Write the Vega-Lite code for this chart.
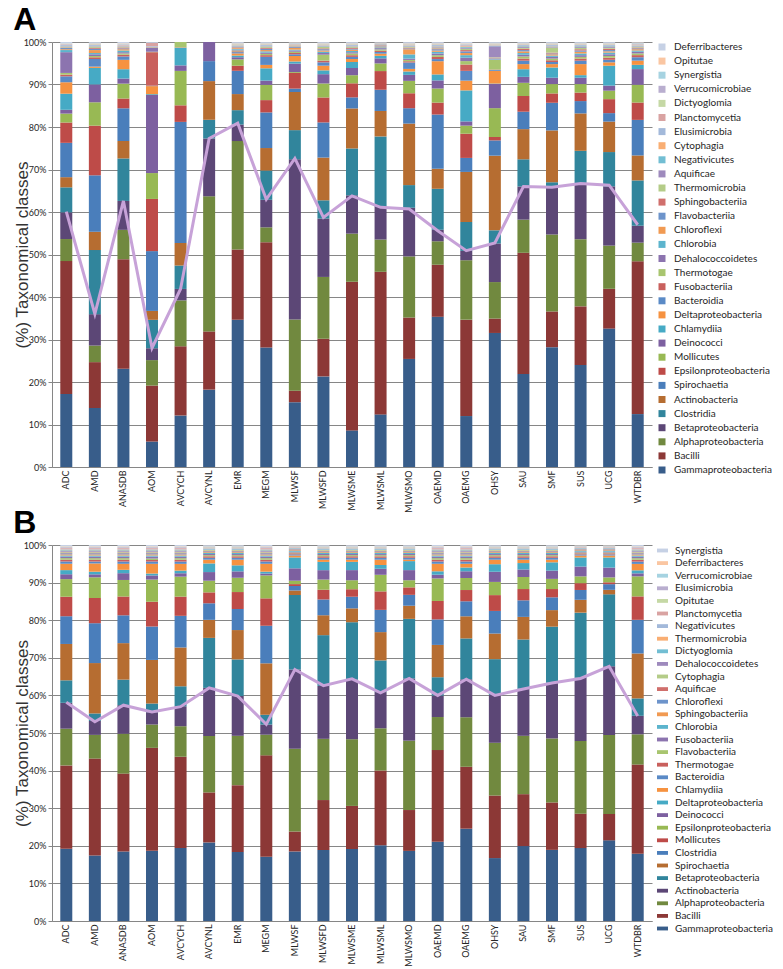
{
"$schema": "https://vega.github.io/schema/vega-lite/v6.json",
"padding": {"left": 13, "top": 4, "right": 0, "bottom": 0},
"background": "white",
"spacing": -6,
"config": {
  "view": {"stroke": null},
  "font": "Lato",
  "axis": {"domainColor": "#868686", "tickColor": "#868686", "gridColor": "#868686", "labelColor": "#262626", "labelFont": "Lato"},
  "axisX": {"labelAngle": -90, "labelFontSize": 9, "ticks": false, "labelPadding": 3, "title": null},
  "axisY": {"values": [0,0.1,0.2,0.3,0.4,0.5,0.6,0.7,0.8,0.9,1], "labelOverlap": false, "format": ".0%", "labelFontSize": 9, "tickSize": 4, "labelPadding": 2, "titleFont": "Liberation Sans", "titleFontSize": 17, "titleFontWeight": "normal", "titleColor": "#333333", "titlePadding": -8, "grid": true},
  "legend": {"title": null, "padding": 0, "symbolStrokeWidth": 0, "labelFont": "Lato", "labelFontSize": 10, "labelColor": "#262626", "labelOffset": 7, "symbolLimit": 40, "labelLimit": 200}
},
"datasets": {
"ca": [{"k":0,"c":"Gammaproteobacteria"},{"k":1,"c":"Bacilli"},{"k":2,"c":"Alphaproteobacteria"},{"k":3,"c":"Betaproteobacteria"},{"k":4,"c":"Clostridia"},{"k":5,"c":"Actinobacteria"},{"k":6,"c":"Spirochaetia"},{"k":7,"c":"Epsilonproteobacteria"},{"k":8,"c":"Mollicutes"},{"k":9,"c":"Deinococci"},{"k":10,"c":"Chlamydiia"},{"k":11,"c":"Deltaproteobacteria"},{"k":12,"c":"Bacteroidia"},{"k":13,"c":"Fusobacteriia"},{"k":14,"c":"Thermotogae"},{"k":15,"c":"Dehalococcoidetes"},{"k":16,"c":"Chlorobia"},{"k":17,"c":"Chloroflexi"},{"k":18,"c":"Flavobacteriia"},{"k":19,"c":"Sphingobacteriia"},{"k":20,"c":"Thermomicrobia"},{"k":21,"c":"Aquificae"},{"k":22,"c":"Negativicutes"},{"k":23,"c":"Cytophagia"},{"k":24,"c":"Elusimicrobia"},{"k":25,"c":"Planctomycetia"},{"k":26,"c":"Dictyoglomia"},{"k":27,"c":"Verrucomicrobiae"},{"k":28,"c":"Synergistia"},{"k":29,"c":"Opitutae"},{"k":30,"c":"Deferribacteres"}],
"cb": [{"k":0,"c":"Gammaproteobacteria"},{"k":1,"c":"Bacilli"},{"k":2,"c":"Alphaproteobacteria"},{"k":3,"c":"Actinobacteria"},{"k":4,"c":"Betaproteobacteria"},{"k":5,"c":"Spirochaetia"},{"k":6,"c":"Clostridia"},{"k":7,"c":"Mollicutes"},{"k":8,"c":"Epsilonproteobacteria"},{"k":9,"c":"Deinococci"},{"k":10,"c":"Deltaproteobacteria"},{"k":11,"c":"Chlamydiia"},{"k":12,"c":"Bacteroidia"},{"k":13,"c":"Thermotogae"},{"k":14,"c":"Flavobacteriia"},{"k":15,"c":"Fusobacteriia"},{"k":16,"c":"Chlorobia"},{"k":17,"c":"Sphingobacteriia"},{"k":18,"c":"Chloroflexi"},{"k":19,"c":"Aquificae"},{"k":20,"c":"Cytophagia"},{"k":21,"c":"Dehalococcoidetes"},{"k":22,"c":"Dictyoglomia"},{"k":23,"c":"Thermomicrobia"},{"k":24,"c":"Negativicutes"},{"k":25,"c":"Planctomycetia"},{"k":26,"c":"Opitutae"},{"k":27,"c":"Elusimicrobia"},{"k":28,"c":"Verrucomicrobiae"},{"k":29,"c":"Deferribacteres"},{"k":30,"c":"Synergistia"}],
"la": [{"s":"ADC","f":0.601},{"s":"AMD","f":0.36},{"s":"ANASDB","f":0.626},{"s":"AOM","f":0.28},{"s":"AVCYCH","f":0.419},{"s":"AVCYNL","f":0.773},{"s":"EMR","f":0.809},{"s":"MEGM","f":0.63},{"s":"MLWSF","f":0.726},{"s":"MLWSFD","f":0.587},{"s":"MLWSME","f":0.638},{"s":"MLWSML","f":0.611},{"s":"MLWSMO","f":0.607},{"s":"OAEMD","f":0.556},{"s":"OAEMG","f":0.509},{"s":"OHSY","f":0.527},{"s":"SAU","f":0.66},{"s":"SMF","f":0.658},{"s":"SUS","f":0.667},{"s":"UCG","f":0.663},{"s":"WTDBR","f":0.57}],
"lb": [{"s":"ADC","f":0.582},{"s":"AMD","f":0.53},{"s":"ANASDB","f":0.574},{"s":"AOM","f":0.556},{"s":"AVCYCH","f":0.57},{"s":"AVCYNL","f":0.62},{"s":"EMR","f":0.598},{"s":"MEGM","f":0.523},{"s":"MLWSF","f":0.669},{"s":"MLWSFD","f":0.626},{"s":"MLWSME","f":0.644},{"s":"MLWSML","f":0.607},{"s":"MLWSMO","f":0.645},{"s":"OAEMD","f":0.6},{"s":"OAEMG","f":0.643},{"s":"OHSY","f":0.6},{"s":"SAU","f":0.617},{"s":"SMF","f":0.633},{"s":"SUS","f":0.645},{"s":"UCG","f":0.677},{"s":"WTDBR","f":0.545}],
"a": [
{"s":"ADC","k":0,"v":17.2},{"s":"ADC","k":1,"v":31.4},{"s":"ADC","k":2,"v":5.2},{"s":"ADC","k":3,"v":6.3},{"s":"ADC","k":4,"v":5.9},{"s":"ADC","k":5,"v":2.4},{"s":"ADC","k":6,"v":8.1},{"s":"ADC","k":7,"v":4.8},{"s":"ADC","k":8,"v":2.1},{"s":"ADC","k":9,"v":0.9},{"s":"ADC","k":10,"v":3.8},{"s":"ADC","k":11,"v":2.7},{"s":"ADC","k":12,"v":1.4},{"s":"ADC","k":13,"v":0.4},{"s":"ADC","k":14,"v":0.4},{"s":"ADC","k":15,"v":4.9},{"s":"ADC","k":16,"v":0.5},{"s":"ADC","k":17,"v":0.2},{"s":"ADC","k":18,"v":0.3},{"s":"ADC","k":19,"v":0.1},{"s":"ADC","k":20,"v":0.1},{"s":"ADC","k":21,"v":0.1},{"s":"ADC","k":22,"v":0.1},{"s":"ADC","k":23,"v":0.1},{"s":"ADC","k":24,"v":0.2},{"s":"ADC","k":25,"v":0.1},{"s":"ADC","k":26,"v":0.05},{"s":"ADC","k":27,"v":0.1},{"s":"ADC","k":28,"v":0.1},{"s":"ADC","k":29,"v":0.05},{"s":"ADC","k":30,"v":0.3},
{"s":"AMD","k":0,"v":13.9},{"s":"AMD","k":1,"v":10.8},{"s":"AMD","k":2,"v":3.9},{"s":"AMD","k":3,"v":7.4},{"s":"AMD","k":4,"v":15.1},{"s":"AMD","k":5,"v":4.3},{"s":"AMD","k":6,"v":13.3},{"s":"AMD","k":7,"v":11.7},{"s":"AMD","k":8,"v":5.5},{"s":"AMD","k":9,"v":4.2},{"s":"AMD","k":10,"v":3.9},{"s":"AMD","k":11,"v":0.3},{"s":"AMD","k":12,"v":1.8},{"s":"AMD","k":13,"v":0.4},{"s":"AMD","k":14,"v":0.3},{"s":"AMD","k":15,"v":0.4},{"s":"AMD","k":16,"v":0.3},{"s":"AMD","k":17,"v":0.7},{"s":"AMD","k":18,"v":0.3},{"s":"AMD","k":19,"v":0.2},{"s":"AMD","k":20,"v":0.2},{"s":"AMD","k":21,"v":0.1},{"s":"AMD","k":22,"v":0.1},{"s":"AMD","k":23,"v":0.1},{"s":"AMD","k":24,"v":0.2},{"s":"AMD","k":25,"v":0.1},{"s":"AMD","k":26,"v":0.1},{"s":"AMD","k":27,"v":0.1},{"s":"AMD","k":28,"v":0.1},{"s":"AMD","k":29,"v":0.1},{"s":"AMD","k":30,"v":0.2},
{"s":"ANASDB","k":0,"v":23.1},{"s":"ANASDB","k":1,"v":25.8},{"s":"ANASDB","k":2,"v":6.9},{"s":"ANASDB","k":3,"v":6.8},{"s":"ANASDB","k":4,"v":10.0},{"s":"ANASDB","k":5,"v":4.1},{"s":"ANASDB","k":6,"v":7.7},{"s":"ANASDB","k":7,"v":2.3},{"s":"ANASDB","k":8,"v":3.5},{"s":"ANASDB","k":9,"v":1.2},{"s":"ANASDB","k":10,"v":2.2},{"s":"ANASDB","k":11,"v":2.2},{"s":"ANASDB","k":12,"v":0.8},{"s":"ANASDB","k":13,"v":0.4},{"s":"ANASDB","k":14,"v":0.3},{"s":"ANASDB","k":15,"v":0.3},{"s":"ANASDB","k":16,"v":0.4},{"s":"ANASDB","k":17,"v":0.3},{"s":"ANASDB","k":18,"v":0.2},{"s":"ANASDB","k":19,"v":0.2},{"s":"ANASDB","k":20,"v":0.1},{"s":"ANASDB","k":21,"v":0.1},{"s":"ANASDB","k":22,"v":0.1},{"s":"ANASDB","k":23,"v":0.1},{"s":"ANASDB","k":24,"v":0.1},{"s":"ANASDB","k":25,"v":0.1},{"s":"ANASDB","k":26,"v":0.1},{"s":"ANASDB","k":27,"v":0.1},{"s":"ANASDB","k":28,"v":0.1},{"s":"ANASDB","k":29,"v":0.1},{"s":"ANASDB","k":30,"v":0.3},
{"s":"AOM","k":0,"v":6.0},{"s":"AOM","k":1,"v":13.2},{"s":"AOM","k":2,"v":6.0},{"s":"AOM","k":3,"v":2.8},{"s":"AOM","k":4,"v":6.7},{"s":"AOM","k":5,"v":2.1},{"s":"AOM","k":6,"v":14.1},{"s":"AOM","k":7,"v":12.3},{"s":"AOM","k":8,"v":6.1},{"s":"AOM","k":9,"v":18.4},{"s":"AOM","k":10,"v":0.2},{"s":"AOM","k":11,"v":1.9},{"s":"AOM","k":12,"v":0.1},{"s":"AOM","k":13,"v":7.9},{"s":"AOM","k":14,"v":0.1},{"s":"AOM","k":15,"v":0.9},{"s":"AOM","k":16,"v":0.1},{"s":"AOM","k":17,"v":0.1},{"s":"AOM","k":18,"v":0.1},{"s":"AOM","k":24,"v":0.1},{"s":"AOM","k":25,"v":0.8},{"s":"AOM","k":30,"v":0.2},
{"s":"AVCYCH","k":0,"v":12.1},{"s":"AVCYCH","k":1,"v":16.3},{"s":"AVCYCH","k":2,"v":10.8},{"s":"AVCYCH","k":3,"v":2.7},{"s":"AVCYCH","k":4,"v":5.5},{"s":"AVCYCH","k":5,"v":5.3},{"s":"AVCYCH","k":6,"v":28.5},{"s":"AVCYCH","k":7,"v":3.9},{"s":"AVCYCH","k":8,"v":8.1},{"s":"AVCYCH","k":9,"v":1.3},{"s":"AVCYCH","k":10,"v":4.2},{"s":"AVCYCH","k":11,"v":0.1},{"s":"AVCYCH","k":14,"v":1.2},
{"s":"AVCYNL","k":0,"v":18.2},{"s":"AVCYNL","k":1,"v":13.7},{"s":"AVCYNL","k":2,"v":31.8},{"s":"AVCYNL","k":3,"v":13.6},{"s":"AVCYNL","k":4,"v":4.4},{"s":"AVCYNL","k":5,"v":9.1},{"s":"AVCYNL","k":6,"v":4.7},{"s":"AVCYNL","k":9,"v":4.5},
{"s":"EMR","k":0,"v":34.8},{"s":"EMR","k":1,"v":16.6},{"s":"EMR","k":2,"v":25.6},{"s":"EMR","k":3,"v":3.9},{"s":"EMR","k":4,"v":3.4},{"s":"EMR","k":5,"v":3.8},{"s":"EMR","k":6,"v":5.5},{"s":"EMR","k":7,"v":1.2},{"s":"EMR","k":8,"v":1.5},{"s":"EMR","k":9,"v":0.5},{"s":"EMR","k":10,"v":0.4},{"s":"EMR","k":11,"v":0.5},{"s":"EMR","k":12,"v":0.3},{"s":"EMR","k":13,"v":0.2},{"s":"EMR","k":14,"v":0.2},{"s":"EMR","k":15,"v":0.2},{"s":"EMR","k":16,"v":0.2},{"s":"EMR","k":17,"v":0.2},{"s":"EMR","k":18,"v":0.1},{"s":"EMR","k":19,"v":0.1},{"s":"EMR","k":20,"v":0.1},{"s":"EMR","k":21,"v":0.1},{"s":"EMR","k":22,"v":0.1},{"s":"EMR","k":23,"v":0.1},{"s":"EMR","k":24,"v":0.1},{"s":"EMR","k":25,"v":0.1},{"s":"EMR","k":26,"v":0.1},{"s":"EMR","k":27,"v":0.1},{"s":"EMR","k":28,"v":0.1},{"s":"EMR","k":29,"v":0.1},{"s":"EMR","k":30,"v":0.2},
{"s":"MEGM","k":0,"v":28.2},{"s":"MEGM","k":1,"v":24.8},{"s":"MEGM","k":2,"v":3.5},{"s":"MEGM","k":3,"v":6.5},{"s":"MEGM","k":4,"v":6.9},{"s":"MEGM","k":5,"v":5.3},{"s":"MEGM","k":6,"v":8.4},{"s":"MEGM","k":7,"v":2.9},{"s":"MEGM","k":8,"v":3.6},{"s":"MEGM","k":9,"v":1.0},{"s":"MEGM","k":10,"v":2.9},{"s":"MEGM","k":11,"v":0.8},{"s":"MEGM","k":12,"v":1.9},{"s":"MEGM","k":13,"v":0.4},{"s":"MEGM","k":14,"v":0.3},{"s":"MEGM","k":15,"v":0.3},{"s":"MEGM","k":16,"v":0.3},{"s":"MEGM","k":17,"v":0.3},{"s":"MEGM","k":18,"v":0.3},{"s":"MEGM","k":19,"v":0.2},{"s":"MEGM","k":20,"v":0.2},{"s":"MEGM","k":21,"v":0.1},{"s":"MEGM","k":22,"v":0.1},{"s":"MEGM","k":23,"v":0.1},{"s":"MEGM","k":24,"v":0.2},{"s":"MEGM","k":25,"v":0.1},{"s":"MEGM","k":26,"v":0.1},{"s":"MEGM","k":27,"v":0.1},{"s":"MEGM","k":28,"v":0.1},{"s":"MEGM","k":29,"v":0.1},{"s":"MEGM","k":30,"v":0.2},
{"s":"MLWSF","k":0,"v":15.3},{"s":"MLWSF","k":1,"v":2.7},{"s":"MLWSF","k":2,"v":16.8},{"s":"MLWSF","k":3,"v":37.8},{"s":"MLWSF","k":4,"v":6.9},{"s":"MLWSF","k":5,"v":9.0},{"s":"MLWSF","k":6,"v":0.8},{"s":"MLWSF","k":7,"v":3.7},{"s":"MLWSF","k":8,"v":0.2},{"s":"MLWSF","k":9,"v":2.0},{"s":"MLWSF","k":10,"v":0.5},{"s":"MLWSF","k":11,"v":1.3},{"s":"MLWSF","k":12,"v":0.4},{"s":"MLWSF","k":13,"v":0.3},{"s":"MLWSF","k":14,"v":0.3},{"s":"MLWSF","k":15,"v":0.3},{"s":"MLWSF","k":16,"v":0.2},{"s":"MLWSF","k":17,"v":0.4},{"s":"MLWSF","k":18,"v":0.2},{"s":"MLWSF","k":19,"v":0.1},{"s":"MLWSF","k":20,"v":0.1},{"s":"MLWSF","k":21,"v":0.1},{"s":"MLWSF","k":22,"v":0.1},{"s":"MLWSF","k":23,"v":0.1},{"s":"MLWSF","k":24,"v":0.1},{"s":"MLWSF","k":25,"v":0.1},{"s":"MLWSF","k":26,"v":0.1},{"s":"MLWSF","k":27,"v":0.1},{"s":"MLWSF","k":28,"v":0.1},{"s":"MLWSF","k":29,"v":0.1},{"s":"MLWSF","k":30,"v":0.1},
{"s":"MLWSFD","k":0,"v":21.4},{"s":"MLWSFD","k":1,"v":8.9},{"s":"MLWSFD","k":2,"v":14.6},{"s":"MLWSFD","k":3,"v":13.8},{"s":"MLWSFD","k":4,"v":4.3},{"s":"MLWSFD","k":5,"v":10.1},{"s":"MLWSFD","k":6,"v":8.3},{"s":"MLWSFD","k":7,"v":5.9},{"s":"MLWSFD","k":8,"v":3.3},{"s":"MLWSFD","k":9,"v":2.2},{"s":"MLWSFD","k":10,"v":0.9},{"s":"MLWSFD","k":11,"v":1.1},{"s":"MLWSFD","k":12,"v":0.8},{"s":"MLWSFD","k":13,"v":0.4},{"s":"MLWSFD","k":14,"v":1.4},{"s":"MLWSFD","k":15,"v":0.4},{"s":"MLWSFD","k":16,"v":0.3},{"s":"MLWSFD","k":17,"v":0.3},{"s":"MLWSFD","k":18,"v":0.3},{"s":"MLWSFD","k":19,"v":0.2},{"s":"MLWSFD","k":20,"v":0.4},{"s":"MLWSFD","k":21,"v":0.1},{"s":"MLWSFD","k":22,"v":0.1},{"s":"MLWSFD","k":23,"v":0.1},{"s":"MLWSFD","k":24,"v":0.1},{"s":"MLWSFD","k":25,"v":0.1},{"s":"MLWSFD","k":26,"v":0.1},{"s":"MLWSFD","k":27,"v":0.1},{"s":"MLWSFD","k":28,"v":0.1},{"s":"MLWSFD","k":29,"v":0.1},{"s":"MLWSFD","k":30,"v":0.2},
{"s":"MLWSME","k":0,"v":8.6},{"s":"MLWSME","k":1,"v":34.9},{"s":"MLWSME","k":2,"v":11.3},{"s":"MLWSME","k":3,"v":9.0},{"s":"MLWSME","k":4,"v":11.0},{"s":"MLWSME","k":5,"v":9.4},{"s":"MLWSME","k":6,"v":2.6},{"s":"MLWSME","k":7,"v":3.3},{"s":"MLWSME","k":8,"v":1.9},{"s":"MLWSME","k":9,"v":1.7},{"s":"MLWSME","k":10,"v":1.4},{"s":"MLWSME","k":11,"v":0.7},{"s":"MLWSME","k":12,"v":0.5},{"s":"MLWSME","k":13,"v":0.4},{"s":"MLWSME","k":14,"v":0.4},{"s":"MLWSME","k":15,"v":0.3},{"s":"MLWSME","k":16,"v":0.3},{"s":"MLWSME","k":17,"v":0.3},{"s":"MLWSME","k":18,"v":0.2},{"s":"MLWSME","k":19,"v":0.2},{"s":"MLWSME","k":20,"v":0.2},{"s":"MLWSME","k":21,"v":0.1},{"s":"MLWSME","k":22,"v":0.1},{"s":"MLWSME","k":23,"v":0.1},{"s":"MLWSME","k":24,"v":0.2},{"s":"MLWSME","k":25,"v":0.1},{"s":"MLWSME","k":26,"v":0.1},{"s":"MLWSME","k":27,"v":0.1},{"s":"MLWSME","k":28,"v":0.1},{"s":"MLWSME","k":29,"v":0.1},{"s":"MLWSME","k":30,"v":0.2},
{"s":"MLWSML","k":0,"v":12.4},{"s":"MLWSML","k":1,"v":33.6},{"s":"MLWSML","k":2,"v":7.6},{"s":"MLWSML","k":3,"v":7.9},{"s":"MLWSML","k":4,"v":16.4},{"s":"MLWSML","k":5,"v":6.0},{"s":"MLWSML","k":6,"v":5.0},{"s":"MLWSML","k":7,"v":4.4},{"s":"MLWSML","k":8,"v":1.8},{"s":"MLWSML","k":9,"v":1.2},{"s":"MLWSML","k":10,"v":0.6},{"s":"MLWSML","k":11,"v":0.5},{"s":"MLWSML","k":12,"v":0.4},{"s":"MLWSML","k":13,"v":0.3},{"s":"MLWSML","k":14,"v":0.3},{"s":"MLWSML","k":15,"v":0.3},{"s":"MLWSML","k":16,"v":0.2},{"s":"MLWSML","k":17,"v":0.2},{"s":"MLWSML","k":18,"v":0.2},{"s":"MLWSML","k":19,"v":0.1},{"s":"MLWSML","k":20,"v":0.1},{"s":"MLWSML","k":21,"v":0.1},{"s":"MLWSML","k":22,"v":0.05},{"s":"MLWSML","k":23,"v":0.05},{"s":"MLWSML","k":24,"v":0.1},{"s":"MLWSML","k":25,"v":0.05},{"s":"MLWSML","k":26,"v":0.05},{"s":"MLWSML","k":27,"v":0.05},{"s":"MLWSML","k":28,"v":0.05},{"s":"MLWSML","k":29,"v":0.05},{"s":"MLWSML","k":30,"v":0.1},
{"s":"MLWSMO","k":0,"v":25.3},{"s":"MLWSMO","k":1,"v":9.7},{"s":"MLWSMO","k":2,"v":14.3},{"s":"MLWSMO","k":3,"v":11.4},{"s":"MLWSMO","k":4,"v":5.3},{"s":"MLWSMO","k":5,"v":14.4},{"s":"MLWSMO","k":6,"v":3.6},{"s":"MLWSMO","k":7,"v":3.5},{"s":"MLWSMO","k":8,"v":2.9},{"s":"MLWSMO","k":9,"v":1.4},{"s":"MLWSMO","k":10,"v":0.8},{"s":"MLWSMO","k":11,"v":0.6},{"s":"MLWSMO","k":12,"v":1.5},{"s":"MLWSMO","k":13,"v":0.3},{"s":"MLWSMO","k":14,"v":0.3},{"s":"MLWSMO","k":15,"v":0.3},{"s":"MLWSMO","k":16,"v":1.0},{"s":"MLWSMO","k":17,"v":1.2},{"s":"MLWSMO","k":18,"v":0.2},{"s":"MLWSMO","k":19,"v":0.2},{"s":"MLWSMO","k":20,"v":0.2},{"s":"MLWSMO","k":21,"v":0.1},{"s":"MLWSMO","k":22,"v":0.1},{"s":"MLWSMO","k":23,"v":0.1},{"s":"MLWSMO","k":24,"v":0.1},{"s":"MLWSMO","k":25,"v":0.1},{"s":"MLWSMO","k":26,"v":0.1},{"s":"MLWSMO","k":27,"v":0.1},{"s":"MLWSMO","k":28,"v":0.1},{"s":"MLWSMO","k":29,"v":0.1},{"s":"MLWSMO","k":30,"v":0.2},
{"s":"OAEMD","k":0,"v":35.2},{"s":"OAEMD","k":1,"v":12.2},{"s":"OAEMD","k":2,"v":5.5},{"s":"OAEMD","k":3,"v":2.7},{"s":"OAEMD","k":4,"v":9.6},{"s":"OAEMD","k":5,"v":4.7},{"s":"OAEMD","k":6,"v":12.7},{"s":"OAEMD","k":7,"v":2.8},{"s":"OAEMD","k":8,"v":3.3},{"s":"OAEMD","k":9,"v":1.9},{"s":"OAEMD","k":10,"v":1.4},{"s":"OAEMD","k":11,"v":3.1},{"s":"OAEMD","k":12,"v":0.5},{"s":"OAEMD","k":13,"v":0.5},{"s":"OAEMD","k":14,"v":0.4},{"s":"OAEMD","k":15,"v":0.4},{"s":"OAEMD","k":16,"v":0.4},{"s":"OAEMD","k":17,"v":0.3},{"s":"OAEMD","k":18,"v":0.3},{"s":"OAEMD","k":19,"v":0.2},{"s":"OAEMD","k":20,"v":0.2},{"s":"OAEMD","k":21,"v":0.2},{"s":"OAEMD","k":22,"v":0.1},{"s":"OAEMD","k":23,"v":0.1},{"s":"OAEMD","k":24,"v":0.2},{"s":"OAEMD","k":25,"v":0.1},{"s":"OAEMD","k":26,"v":0.1},{"s":"OAEMD","k":27,"v":0.1},{"s":"OAEMD","k":28,"v":0.1},{"s":"OAEMD","k":29,"v":0.1},{"s":"OAEMD","k":30,"v":0.2},
{"s":"OAEMG","k":0,"v":12.0},{"s":"OAEMG","k":1,"v":22.7},{"s":"OAEMG","k":2,"v":14.0},{"s":"OAEMG","k":3,"v":2.2},{"s":"OAEMG","k":4,"v":6.8},{"s":"OAEMG","k":5,"v":11.8},{"s":"OAEMG","k":6,"v":3.3},{"s":"OAEMG","k":7,"v":5.7},{"s":"OAEMG","k":8,"v":1.9},{"s":"OAEMG","k":9,"v":1.0},{"s":"OAEMG","k":10,"v":7.3},{"s":"OAEMG","k":11,"v":2.3},{"s":"OAEMG","k":12,"v":2.3},{"s":"OAEMG","k":13,"v":1.5},{"s":"OAEMG","k":14,"v":0.8},{"s":"OAEMG","k":15,"v":0.8},{"s":"OAEMG","k":16,"v":0.6},{"s":"OAEMG","k":17,"v":0.5},{"s":"OAEMG","k":18,"v":0.4},{"s":"OAEMG","k":19,"v":0.3},{"s":"OAEMG","k":20,"v":0.3},{"s":"OAEMG","k":21,"v":0.2},{"s":"OAEMG","k":22,"v":0.2},{"s":"OAEMG","k":23,"v":0.2},{"s":"OAEMG","k":24,"v":0.2},{"s":"OAEMG","k":25,"v":0.1},{"s":"OAEMG","k":26,"v":0.1},{"s":"OAEMG","k":27,"v":0.1},{"s":"OAEMG","k":28,"v":0.1},{"s":"OAEMG","k":29,"v":0.1},{"s":"OAEMG","k":30,"v":0.3},
{"s":"OHSY","k":0,"v":31.6},{"s":"OHSY","k":1,"v":3.4},{"s":"OHSY","k":2,"v":8.6},{"s":"OHSY","k":3,"v":9.1},{"s":"OHSY","k":4,"v":3.1},{"s":"OHSY","k":5,"v":17.6},{"s":"OHSY","k":6,"v":3.6},{"s":"OHSY","k":7,"v":0.8},{"s":"OHSY","k":8,"v":6.8},{"s":"OHSY","k":9,"v":5.7},{"s":"OHSY","k":10,"v":0.1},{"s":"OHSY","k":11,"v":3.0},{"s":"OHSY","k":12,"v":0.2},{"s":"OHSY","k":13,"v":0.1},{"s":"OHSY","k":14,"v":2.3},{"s":"OHSY","k":15,"v":0.1},{"s":"OHSY","k":16,"v":0.1},{"s":"OHSY","k":17,"v":0.1},{"s":"OHSY","k":18,"v":0.1},{"s":"OHSY","k":19,"v":0.1},{"s":"OHSY","k":20,"v":0.1},{"s":"OHSY","k":21,"v":2.6},{"s":"OHSY","k":22,"v":0.1},{"s":"OHSY","k":23,"v":0.1},{"s":"OHSY","k":24,"v":0.1},{"s":"OHSY","k":25,"v":0.1},{"s":"OHSY","k":26,"v":0.1},{"s":"OHSY","k":27,"v":0.1},{"s":"OHSY","k":28,"v":0.1},{"s":"OHSY","k":29,"v":0.1},{"s":"OHSY","k":30,"v":0.2},
{"s":"SAU","k":0,"v":21.9},{"s":"SAU","k":1,"v":28.5},{"s":"SAU","k":2,"v":7.8},{"s":"SAU","k":3,"v":7.8},{"s":"SAU","k":4,"v":6.4},{"s":"SAU","k":5,"v":7.1},{"s":"SAU","k":6,"v":4.1},{"s":"SAU","k":7,"v":3.7},{"s":"SAU","k":8,"v":3.1},{"s":"SAU","k":9,"v":1.4},{"s":"SAU","k":10,"v":1.8},{"s":"SAU","k":11,"v":1.2},{"s":"SAU","k":12,"v":0.8},{"s":"SAU","k":13,"v":0.5},{"s":"SAU","k":14,"v":0.5},{"s":"SAU","k":15,"v":0.4},{"s":"SAU","k":16,"v":0.4},{"s":"SAU","k":17,"v":0.4},{"s":"SAU","k":18,"v":0.3},{"s":"SAU","k":19,"v":0.3},{"s":"SAU","k":20,"v":0.2},{"s":"SAU","k":21,"v":0.2},{"s":"SAU","k":22,"v":0.2},{"s":"SAU","k":23,"v":0.1},{"s":"SAU","k":24,"v":0.2},{"s":"SAU","k":25,"v":0.1},{"s":"SAU","k":26,"v":0.1},{"s":"SAU","k":27,"v":0.1},{"s":"SAU","k":28,"v":0.1},{"s":"SAU","k":29,"v":0.1},{"s":"SAU","k":30,"v":0.2},
{"s":"SMF","k":0,"v":28.2},{"s":"SMF","k":1,"v":8.4},{"s":"SMF","k":2,"v":18.1},{"s":"SMF","k":3,"v":11.1},{"s":"SMF","k":4,"v":1.2},{"s":"SMF","k":5,"v":12.2},{"s":"SMF","k":6,"v":6.5},{"s":"SMF","k":7,"v":2.2},{"s":"SMF","k":8,"v":2.2},{"s":"SMF","k":9,"v":1.5},{"s":"SMF","k":10,"v":2.4},{"s":"SMF","k":11,"v":0.8},{"s":"SMF","k":12,"v":0.5},{"s":"SMF","k":13,"v":0.4},{"s":"SMF","k":14,"v":0.4},{"s":"SMF","k":15,"v":0.4},{"s":"SMF","k":16,"v":0.3},{"s":"SMF","k":17,"v":0.3},{"s":"SMF","k":18,"v":0.2},{"s":"SMF","k":19,"v":0.2},{"s":"SMF","k":20,"v":1.2},{"s":"SMF","k":21,"v":0.2},{"s":"SMF","k":22,"v":0.1},{"s":"SMF","k":23,"v":0.1},{"s":"SMF","k":24,"v":0.2},{"s":"SMF","k":25,"v":0.1},{"s":"SMF","k":26,"v":0.1},{"s":"SMF","k":27,"v":0.1},{"s":"SMF","k":28,"v":0.1},{"s":"SMF","k":29,"v":0.1},{"s":"SMF","k":30,"v":0.2},
{"s":"SUS","k":0,"v":24.0},{"s":"SUS","k":1,"v":13.8},{"s":"SUS","k":2,"v":15.8},{"s":"SUS","k":3,"v":13.1},{"s":"SUS","k":4,"v":7.7},{"s":"SUS","k":5,"v":8.8},{"s":"SUS","k":6,"v":2.9},{"s":"SUS","k":7,"v":2.0},{"s":"SUS","k":8,"v":2.0},{"s":"SUS","k":9,"v":1.5},{"s":"SUS","k":10,"v":0.6},{"s":"SUS","k":11,"v":2.6},{"s":"SUS","k":12,"v":0.8},{"s":"SUS","k":13,"v":0.5},{"s":"SUS","k":14,"v":0.4},{"s":"SUS","k":15,"v":0.4},{"s":"SUS","k":16,"v":0.4},{"s":"SUS","k":17,"v":0.4},{"s":"SUS","k":18,"v":0.3},{"s":"SUS","k":19,"v":0.3},{"s":"SUS","k":20,"v":0.3},{"s":"SUS","k":21,"v":0.2},{"s":"SUS","k":22,"v":0.2},{"s":"SUS","k":23,"v":0.1},{"s":"SUS","k":24,"v":0.2},{"s":"SUS","k":25,"v":0.1},{"s":"SUS","k":26,"v":0.1},{"s":"SUS","k":27,"v":0.1},{"s":"SUS","k":28,"v":0.1},{"s":"SUS","k":29,"v":0.1},{"s":"SUS","k":30,"v":0.2},
{"s":"UCG","k":0,"v":32.7},{"s":"UCG","k":1,"v":9.4},{"s":"UCG","k":2,"v":10.2},{"s":"UCG","k":3,"v":14.0},{"s":"UCG","k":4,"v":8.1},{"s":"UCG","k":5,"v":7.2},{"s":"UCG","k":6,"v":2.0},{"s":"UCG","k":7,"v":3.3},{"s":"UCG","k":8,"v":2.0},{"s":"UCG","k":9,"v":1.2},{"s":"UCG","k":10,"v":4.7},{"s":"UCG","k":11,"v":0.8},{"s":"UCG","k":12,"v":0.6},{"s":"UCG","k":13,"v":0.5},{"s":"UCG","k":14,"v":0.4},{"s":"UCG","k":15,"v":0.4},{"s":"UCG","k":16,"v":0.4},{"s":"UCG","k":17,"v":0.3},{"s":"UCG","k":18,"v":0.3},{"s":"UCG","k":19,"v":0.3},{"s":"UCG","k":20,"v":0.2},{"s":"UCG","k":21,"v":0.2},{"s":"UCG","k":22,"v":0.2},{"s":"UCG","k":23,"v":0.1},{"s":"UCG","k":24,"v":0.2},{"s":"UCG","k":25,"v":0.1},{"s":"UCG","k":26,"v":0.1},{"s":"UCG","k":27,"v":0.1},{"s":"UCG","k":28,"v":0.1},{"s":"UCG","k":29,"v":0.1},{"s":"UCG","k":30,"v":0.2},
{"s":"WTDBR","k":0,"v":12.5},{"s":"WTDBR","k":1,"v":36.1},{"s":"WTDBR","k":2,"v":4.4},{"s":"WTDBR","k":3,"v":4.0},{"s":"WTDBR","k":4,"v":10.7},{"s":"WTDBR","k":5,"v":5.9},{"s":"WTDBR","k":6,"v":8.4},{"s":"WTDBR","k":7,"v":4.1},{"s":"WTDBR","k":8,"v":4.2},{"s":"WTDBR","k":9,"v":3.7},{"s":"WTDBR","k":10,"v":1.0},{"s":"WTDBR","k":11,"v":1.0},{"s":"WTDBR","k":12,"v":0.8},{"s":"WTDBR","k":13,"v":0.5},{"s":"WTDBR","k":14,"v":0.4},{"s":"WTDBR","k":15,"v":0.4},{"s":"WTDBR","k":16,"v":0.3},{"s":"WTDBR","k":17,"v":0.3},{"s":"WTDBR","k":18,"v":0.2},{"s":"WTDBR","k":19,"v":0.2},{"s":"WTDBR","k":20,"v":0.2},{"s":"WTDBR","k":21,"v":0.1},{"s":"WTDBR","k":22,"v":0.1},{"s":"WTDBR","k":23,"v":0.1},{"s":"WTDBR","k":24,"v":0.2},{"s":"WTDBR","k":25,"v":0.1},{"s":"WTDBR","k":26,"v":0.1},{"s":"WTDBR","k":27,"v":0.1},{"s":"WTDBR","k":28,"v":0.1},{"s":"WTDBR","k":29,"v":0.1},{"s":"WTDBR","k":30,"v":0.1}
],
"b": [
{"s":"ADC","k":0,"v":19.3},{"s":"ADC","k":1,"v":22.2},{"s":"ADC","k":2,"v":9.8},{"s":"ADC","k":3,"v":6.9},{"s":"ADC","k":4,"v":6.0},{"s":"ADC","k":5,"v":9.7},{"s":"ADC","k":6,"v":7.4},{"s":"ADC","k":7,"v":5.2},{"s":"ADC","k":8,"v":4.7},{"s":"ADC","k":9,"v":1.3},{"s":"ADC","k":10,"v":1.1},{"s":"ADC","k":11,"v":1.7},{"s":"ADC","k":12,"v":0.6},{"s":"ADC","k":13,"v":0.5},{"s":"ADC","k":14,"v":0.4},{"s":"ADC","k":15,"v":0.4},{"s":"ADC","k":16,"v":0.3},{"s":"ADC","k":17,"v":0.3},{"s":"ADC","k":18,"v":0.3},{"s":"ADC","k":19,"v":0.2},{"s":"ADC","k":20,"v":0.2},{"s":"ADC","k":21,"v":0.2},{"s":"ADC","k":22,"v":0.2},{"s":"ADC","k":23,"v":0.2},{"s":"ADC","k":24,"v":0.2},{"s":"ADC","k":25,"v":0.2},{"s":"ADC","k":26,"v":0.1},{"s":"ADC","k":27,"v":0.2},{"s":"ADC","k":28,"v":0.1},{"s":"ADC","k":29,"v":0.1},{"s":"ADC","k":30,"v":0.3},
{"s":"AMD","k":0,"v":17.4},{"s":"AMD","k":1,"v":25.8},{"s":"AMD","k":2,"v":6.3},{"s":"AMD","k":3,"v":3.7},{"s":"AMD","k":4,"v":2.0},{"s":"AMD","k":5,"v":13.4},{"s":"AMD","k":6,"v":10.6},{"s":"AMD","k":7,"v":6.7},{"s":"AMD","k":8,"v":5.5},{"s":"AMD","k":9,"v":0.8},{"s":"AMD","k":10,"v":0.7},{"s":"AMD","k":11,"v":2.2},{"s":"AMD","k":12,"v":0.5},{"s":"AMD","k":13,"v":0.5},{"s":"AMD","k":14,"v":0.4},{"s":"AMD","k":15,"v":0.4},{"s":"AMD","k":16,"v":0.3},{"s":"AMD","k":17,"v":0.3},{"s":"AMD","k":18,"v":0.3},{"s":"AMD","k":19,"v":0.2},{"s":"AMD","k":20,"v":0.2},{"s":"AMD","k":21,"v":0.2},{"s":"AMD","k":22,"v":0.2},{"s":"AMD","k":23,"v":0.2},{"s":"AMD","k":24,"v":0.2},{"s":"AMD","k":25,"v":0.2},{"s":"AMD","k":26,"v":0.1},{"s":"AMD","k":27,"v":0.2},{"s":"AMD","k":28,"v":0.1},{"s":"AMD","k":29,"v":0.1},{"s":"AMD","k":30,"v":0.3},
{"s":"ANASDB","k":0,"v":18.5},{"s":"ANASDB","k":1,"v":20.7},{"s":"ANASDB","k":2,"v":10.6},{"s":"ANASDB","k":3,"v":7.6},{"s":"ANASDB","k":4,"v":6.8},{"s":"ANASDB","k":5,"v":9.7},{"s":"ANASDB","k":6,"v":7.4},{"s":"ANASDB","k":7,"v":5.0},{"s":"ANASDB","k":8,"v":4.4},{"s":"ANASDB","k":9,"v":1.8},{"s":"ANASDB","k":10,"v":0.9},{"s":"ANASDB","k":11,"v":1.6},{"s":"ANASDB","k":12,"v":0.6},{"s":"ANASDB","k":13,"v":0.5},{"s":"ANASDB","k":14,"v":0.4},{"s":"ANASDB","k":15,"v":0.4},{"s":"ANASDB","k":16,"v":0.3},{"s":"ANASDB","k":17,"v":0.3},{"s":"ANASDB","k":18,"v":0.3},{"s":"ANASDB","k":19,"v":0.2},{"s":"ANASDB","k":20,"v":0.2},{"s":"ANASDB","k":21,"v":0.2},{"s":"ANASDB","k":22,"v":0.2},{"s":"ANASDB","k":23,"v":0.2},{"s":"ANASDB","k":24,"v":0.2},{"s":"ANASDB","k":25,"v":0.2},{"s":"ANASDB","k":26,"v":0.1},{"s":"ANASDB","k":27,"v":0.2},{"s":"ANASDB","k":28,"v":0.1},{"s":"ANASDB","k":29,"v":0.1},{"s":"ANASDB","k":30,"v":0.3},
{"s":"AOM","k":0,"v":18.7},{"s":"AOM","k":1,"v":27.4},{"s":"AOM","k":2,"v":6.2},{"s":"AOM","k":3,"v":3.3},{"s":"AOM","k":4,"v":2.3},{"s":"AOM","k":5,"v":11.6},{"s":"AOM","k":6,"v":8.9},{"s":"AOM","k":7,"v":6.6},{"s":"AOM","k":8,"v":5.9},{"s":"AOM","k":9,"v":1.1},{"s":"AOM","k":10,"v":0.5},{"s":"AOM","k":11,"v":2.6},{"s":"AOM","k":12,"v":0.6},{"s":"AOM","k":13,"v":0.4},{"s":"AOM","k":14,"v":0.4},{"s":"AOM","k":15,"v":0.5},{"s":"AOM","k":16,"v":0.3},{"s":"AOM","k":17,"v":0.3},{"s":"AOM","k":18,"v":0.3},{"s":"AOM","k":19,"v":0.2},{"s":"AOM","k":20,"v":0.2},{"s":"AOM","k":21,"v":0.2},{"s":"AOM","k":22,"v":0.2},{"s":"AOM","k":23,"v":0.2},{"s":"AOM","k":24,"v":0.2},{"s":"AOM","k":25,"v":0.2},{"s":"AOM","k":26,"v":0.1},{"s":"AOM","k":27,"v":0.2},{"s":"AOM","k":28,"v":0.1},{"s":"AOM","k":29,"v":0.1},{"s":"AOM","k":30,"v":0.3},
{"s":"AVCYCH","k":0,"v":19.4},{"s":"AVCYCH","k":1,"v":24.2},{"s":"AVCYCH","k":2,"v":8.1},{"s":"AVCYCH","k":3,"v":5.3},{"s":"AVCYCH","k":4,"v":5.3},{"s":"AVCYCH","k":5,"v":10.3},{"s":"AVCYCH","k":6,"v":8.4},{"s":"AVCYCH","k":7,"v":5.1},{"s":"AVCYCH","k":8,"v":5.3},{"s":"AVCYCH","k":9,"v":0.9},{"s":"AVCYCH","k":10,"v":0.7},{"s":"AVCYCH","k":11,"v":1.8},{"s":"AVCYCH","k":12,"v":0.6},{"s":"AVCYCH","k":13,"v":0.5},{"s":"AVCYCH","k":14,"v":0.4},{"s":"AVCYCH","k":15,"v":0.4},{"s":"AVCYCH","k":16,"v":0.3},{"s":"AVCYCH","k":17,"v":0.3},{"s":"AVCYCH","k":18,"v":0.3},{"s":"AVCYCH","k":19,"v":0.2},{"s":"AVCYCH","k":20,"v":0.2},{"s":"AVCYCH","k":21,"v":0.2},{"s":"AVCYCH","k":22,"v":0.2},{"s":"AVCYCH","k":23,"v":0.2},{"s":"AVCYCH","k":24,"v":0.2},{"s":"AVCYCH","k":25,"v":0.2},{"s":"AVCYCH","k":26,"v":0.1},{"s":"AVCYCH","k":27,"v":0.2},{"s":"AVCYCH","k":28,"v":0.1},{"s":"AVCYCH","k":29,"v":0.1},{"s":"AVCYCH","k":30,"v":0.3},
{"s":"AVCYNL","k":0,"v":20.9},{"s":"AVCYNL","k":1,"v":13.3},{"s":"AVCYNL","k":2,"v":15.0},{"s":"AVCYNL","k":3,"v":12.8},{"s":"AVCYNL","k":4,"v":13.3},{"s":"AVCYNL","k":5,"v":4.8},{"s":"AVCYNL","k":6,"v":4.4},{"s":"AVCYNL","k":7,"v":2.9},{"s":"AVCYNL","k":8,"v":3.1},{"s":"AVCYNL","k":9,"v":2.3},{"s":"AVCYNL","k":10,"v":2.3},{"s":"AVCYNL","k":11,"v":1.0},{"s":"AVCYNL","k":12,"v":0.5},{"s":"AVCYNL","k":13,"v":0.4},{"s":"AVCYNL","k":14,"v":0.3},{"s":"AVCYNL","k":15,"v":0.3},{"s":"AVCYNL","k":16,"v":0.3},{"s":"AVCYNL","k":17,"v":0.2},{"s":"AVCYNL","k":18,"v":0.2},{"s":"AVCYNL","k":19,"v":0.2},{"s":"AVCYNL","k":20,"v":0.2},{"s":"AVCYNL","k":21,"v":0.1},{"s":"AVCYNL","k":22,"v":0.2},{"s":"AVCYNL","k":23,"v":0.1},{"s":"AVCYNL","k":24,"v":0.2},{"s":"AVCYNL","k":25,"v":0.1},{"s":"AVCYNL","k":26,"v":0.1},{"s":"AVCYNL","k":27,"v":0.1},{"s":"AVCYNL","k":28,"v":0.1},{"s":"AVCYNL","k":29,"v":0.1},{"s":"AVCYNL","k":30,"v":0.2},
{"s":"EMR","k":0,"v":18.3},{"s":"EMR","k":1,"v":17.8},{"s":"EMR","k":2,"v":13.1},{"s":"EMR","k":3,"v":10.6},{"s":"EMR","k":4,"v":9.7},{"s":"EMR","k":5,"v":7.8},{"s":"EMR","k":6,"v":5.6},{"s":"EMR","k":7,"v":4.5},{"s":"EMR","k":8,"v":3.8},{"s":"EMR","k":9,"v":1.7},{"s":"EMR","k":10,"v":1.6},{"s":"EMR","k":11,"v":1.5},{"s":"EMR","k":12,"v":0.5},{"s":"EMR","k":13,"v":0.4},{"s":"EMR","k":14,"v":0.3},{"s":"EMR","k":15,"v":0.3},{"s":"EMR","k":16,"v":0.3},{"s":"EMR","k":17,"v":0.2},{"s":"EMR","k":18,"v":0.2},{"s":"EMR","k":19,"v":0.2},{"s":"EMR","k":20,"v":0.2},{"s":"EMR","k":21,"v":0.1},{"s":"EMR","k":22,"v":0.2},{"s":"EMR","k":23,"v":0.1},{"s":"EMR","k":24,"v":0.2},{"s":"EMR","k":25,"v":0.1},{"s":"EMR","k":26,"v":0.1},{"s":"EMR","k":27,"v":0.1},{"s":"EMR","k":28,"v":0.1},{"s":"EMR","k":29,"v":0.1},{"s":"EMR","k":30,"v":0.2},
{"s":"MEGM","k":0,"v":17.1},{"s":"MEGM","k":1,"v":27.0},{"s":"MEGM","k":2,"v":5.5},{"s":"MEGM","k":3,"v":2.7},{"s":"MEGM","k":4,"v":2.6},{"s":"MEGM","k":5,"v":13.7},{"s":"MEGM","k":6,"v":10.0},{"s":"MEGM","k":7,"v":7.3},{"s":"MEGM","k":8,"v":6.1},{"s":"MEGM","k":9,"v":0.5},{"s":"MEGM","k":10,"v":0.5},{"s":"MEGM","k":11,"v":2.1},{"s":"MEGM","k":12,"v":0.6},{"s":"MEGM","k":13,"v":0.5},{"s":"MEGM","k":14,"v":0.4},{"s":"MEGM","k":15,"v":0.4},{"s":"MEGM","k":16,"v":0.3},{"s":"MEGM","k":17,"v":0.3},{"s":"MEGM","k":18,"v":0.3},{"s":"MEGM","k":19,"v":0.2},{"s":"MEGM","k":20,"v":0.2},{"s":"MEGM","k":21,"v":0.2},{"s":"MEGM","k":22,"v":0.2},{"s":"MEGM","k":23,"v":0.2},{"s":"MEGM","k":24,"v":0.2},{"s":"MEGM","k":25,"v":0.2},{"s":"MEGM","k":26,"v":0.1},{"s":"MEGM","k":27,"v":0.2},{"s":"MEGM","k":28,"v":0.1},{"s":"MEGM","k":29,"v":0.1},{"s":"MEGM","k":30,"v":0.3},
{"s":"MLWSF","k":0,"v":18.5},{"s":"MLWSF","k":1,"v":5.3},{"s":"MLWSF","k":2,"v":22.0},{"s":"MLWSF","k":3,"v":21.1},{"s":"MLWSF","k":4,"v":19.8},{"s":"MLWSF","k":5,"v":1.2},{"s":"MLWSF","k":6,"v":1.2},{"s":"MLWSF","k":7,"v":0.5},{"s":"MLWSF","k":8,"v":0.9},{"s":"MLWSF","k":9,"v":3.3},{"s":"MLWSF","k":10,"v":2.9},{"s":"MLWSF","k":11,"v":0.5},{"s":"MLWSF","k":12,"v":0.3},{"s":"MLWSF","k":13,"v":0.3},{"s":"MLWSF","k":14,"v":0.2},{"s":"MLWSF","k":15,"v":0.2},{"s":"MLWSF","k":16,"v":0.2},{"s":"MLWSF","k":17,"v":0.2},{"s":"MLWSF","k":18,"v":0.2},{"s":"MLWSF","k":19,"v":0.1},{"s":"MLWSF","k":20,"v":0.1},{"s":"MLWSF","k":21,"v":0.1},{"s":"MLWSF","k":22,"v":0.1},{"s":"MLWSF","k":23,"v":0.1},{"s":"MLWSF","k":24,"v":0.1},{"s":"MLWSF","k":25,"v":0.1},{"s":"MLWSF","k":26,"v":0.1},{"s":"MLWSF","k":27,"v":0.1},{"s":"MLWSF","k":28,"v":0.1},{"s":"MLWSF","k":29,"v":0.1},{"s":"MLWSF","k":30,"v":0.1},
{"s":"MLWSFD","k":0,"v":18.9},{"s":"MLWSFD","k":1,"v":13.3},{"s":"MLWSFD","k":2,"v":16.3},{"s":"MLWSFD","k":3,"v":14.1},{"s":"MLWSFD","k":4,"v":13.5},{"s":"MLWSFD","k":5,"v":5.3},{"s":"MLWSFD","k":6,"v":4.2},{"s":"MLWSFD","k":7,"v":2.6},{"s":"MLWSFD","k":8,"v":2.7},{"s":"MLWSFD","k":9,"v":2.5},{"s":"MLWSFD","k":10,"v":2.2},{"s":"MLWSFD","k":11,"v":0.6},{"s":"MLWSFD","k":12,"v":0.5},{"s":"MLWSFD","k":13,"v":0.4},{"s":"MLWSFD","k":14,"v":0.3},{"s":"MLWSFD","k":15,"v":0.3},{"s":"MLWSFD","k":16,"v":0.3},{"s":"MLWSFD","k":17,"v":0.2},{"s":"MLWSFD","k":18,"v":0.2},{"s":"MLWSFD","k":19,"v":0.2},{"s":"MLWSFD","k":20,"v":0.2},{"s":"MLWSFD","k":21,"v":0.1},{"s":"MLWSFD","k":22,"v":0.2},{"s":"MLWSFD","k":23,"v":0.1},{"s":"MLWSFD","k":24,"v":0.2},{"s":"MLWSFD","k":25,"v":0.1},{"s":"MLWSFD","k":26,"v":0.1},{"s":"MLWSFD","k":27,"v":0.1},{"s":"MLWSFD","k":28,"v":0.1},{"s":"MLWSFD","k":29,"v":0.1},{"s":"MLWSFD","k":30,"v":0.2},
{"s":"MLWSME","k":0,"v":19.2},{"s":"MLWSME","k":1,"v":11.5},{"s":"MLWSME","k":2,"v":17.8},{"s":"MLWSME","k":3,"v":15.9},{"s":"MLWSME","k":4,"v":15.3},{"s":"MLWSME","k":5,"v":3.7},{"s":"MLWSME","k":6,"v":3.1},{"s":"MLWSME","k":7,"v":2.0},{"s":"MLWSME","k":8,"v":2.4},{"s":"MLWSME","k":9,"v":2.7},{"s":"MLWSME","k":10,"v":2.2},{"s":"MLWSME","k":11,"v":0.6},{"s":"MLWSME","k":12,"v":0.5},{"s":"MLWSME","k":13,"v":0.4},{"s":"MLWSME","k":14,"v":0.3},{"s":"MLWSME","k":15,"v":0.3},{"s":"MLWSME","k":16,"v":0.3},{"s":"MLWSME","k":17,"v":0.2},{"s":"MLWSME","k":18,"v":0.2},{"s":"MLWSME","k":19,"v":0.2},{"s":"MLWSME","k":20,"v":0.2},{"s":"MLWSME","k":21,"v":0.1},{"s":"MLWSME","k":22,"v":0.2},{"s":"MLWSME","k":23,"v":0.1},{"s":"MLWSME","k":24,"v":0.2},{"s":"MLWSME","k":25,"v":0.1},{"s":"MLWSME","k":26,"v":0.1},{"s":"MLWSME","k":27,"v":0.1},{"s":"MLWSME","k":28,"v":0.1},{"s":"MLWSME","k":29,"v":0.1},{"s":"MLWSME","k":30,"v":0.2},
{"s":"MLWSML","k":0,"v":20.1},{"s":"MLWSML","k":1,"v":19.8},{"s":"MLWSML","k":2,"v":11.2},{"s":"MLWSML","k":3,"v":9.6},{"s":"MLWSML","k":4,"v":8.4},{"s":"MLWSML","k":5,"v":7.5},{"s":"MLWSML","k":6,"v":5.9},{"s":"MLWSML","k":7,"v":4.9},{"s":"MLWSML","k":8,"v":4.4},{"s":"MLWSML","k":9,"v":1.6},{"s":"MLWSML","k":10,"v":1.0},{"s":"MLWSML","k":11,"v":1.4},{"s":"MLWSML","k":12,"v":0.5},{"s":"MLWSML","k":13,"v":0.4},{"s":"MLWSML","k":14,"v":0.3},{"s":"MLWSML","k":15,"v":0.3},{"s":"MLWSML","k":16,"v":0.3},{"s":"MLWSML","k":17,"v":0.2},{"s":"MLWSML","k":18,"v":0.2},{"s":"MLWSML","k":19,"v":0.2},{"s":"MLWSML","k":20,"v":0.2},{"s":"MLWSML","k":21,"v":0.1},{"s":"MLWSML","k":22,"v":0.2},{"s":"MLWSML","k":23,"v":0.1},{"s":"MLWSML","k":24,"v":0.2},{"s":"MLWSML","k":25,"v":0.1},{"s":"MLWSML","k":26,"v":0.1},{"s":"MLWSML","k":27,"v":0.1},{"s":"MLWSML","k":28,"v":0.1},{"s":"MLWSML","k":29,"v":0.1},{"s":"MLWSML","k":30,"v":0.2},
{"s":"MLWSMO","k":0,"v":18.7},{"s":"MLWSMO","k":1,"v":10.9},{"s":"MLWSMO","k":2,"v":18.5},{"s":"MLWSMO","k":3,"v":16.6},{"s":"MLWSMO","k":4,"v":15.9},{"s":"MLWSMO","k":5,"v":3.5},{"s":"MLWSMO","k":6,"v":2.9},{"s":"MLWSMO","k":7,"v":2.0},{"s":"MLWSMO","k":8,"v":1.9},{"s":"MLWSMO","k":9,"v":2.7},{"s":"MLWSMO","k":10,"v":2.4},{"s":"MLWSMO","k":11,"v":0.4},{"s":"MLWSMO","k":12,"v":0.5},{"s":"MLWSMO","k":13,"v":0.4},{"s":"MLWSMO","k":14,"v":0.3},{"s":"MLWSMO","k":15,"v":0.3},{"s":"MLWSMO","k":16,"v":0.3},{"s":"MLWSMO","k":17,"v":0.2},{"s":"MLWSMO","k":18,"v":0.2},{"s":"MLWSMO","k":19,"v":0.2},{"s":"MLWSMO","k":20,"v":0.2},{"s":"MLWSMO","k":21,"v":0.1},{"s":"MLWSMO","k":22,"v":0.2},{"s":"MLWSMO","k":23,"v":0.1},{"s":"MLWSMO","k":24,"v":0.2},{"s":"MLWSMO","k":25,"v":0.1},{"s":"MLWSMO","k":26,"v":0.1},{"s":"MLWSMO","k":27,"v":0.1},{"s":"MLWSMO","k":28,"v":0.1},{"s":"MLWSMO","k":29,"v":0.1},{"s":"MLWSMO","k":30,"v":0.2},
{"s":"OAEMD","k":0,"v":21.1},{"s":"OAEMD","k":1,"v":24.4},{"s":"OAEMD","k":2,"v":8.8},{"s":"OAEMD","k":3,"v":5.7},{"s":"OAEMD","k":4,"v":4.9},{"s":"OAEMD","k":5,"v":8.6},{"s":"OAEMD","k":6,"v":6.8},{"s":"OAEMD","k":7,"v":4.9},{"s":"OAEMD","k":8,"v":6.0},{"s":"OAEMD","k":9,"v":1.0},{"s":"OAEMD","k":10,"v":0.9},{"s":"OAEMD","k":11,"v":2.0},{"s":"OAEMD","k":12,"v":0.6},{"s":"OAEMD","k":13,"v":0.5},{"s":"OAEMD","k":14,"v":0.4},{"s":"OAEMD","k":15,"v":0.4},{"s":"OAEMD","k":16,"v":0.3},{"s":"OAEMD","k":17,"v":0.3},{"s":"OAEMD","k":18,"v":0.3},{"s":"OAEMD","k":19,"v":0.2},{"s":"OAEMD","k":20,"v":0.2},{"s":"OAEMD","k":21,"v":0.2},{"s":"OAEMD","k":22,"v":0.2},{"s":"OAEMD","k":23,"v":0.2},{"s":"OAEMD","k":24,"v":0.2},{"s":"OAEMD","k":25,"v":0.2},{"s":"OAEMD","k":26,"v":0.1},{"s":"OAEMD","k":27,"v":0.2},{"s":"OAEMD","k":28,"v":0.1},{"s":"OAEMD","k":29,"v":0.1},{"s":"OAEMD","k":30,"v":0.3},
{"s":"OAEMG","k":0,"v":24.6},{"s":"OAEMG","k":1,"v":16.5},{"s":"OAEMG","k":2,"v":13.2},{"s":"OAEMG","k":3,"v":10.1},{"s":"OAEMG","k":4,"v":10.9},{"s":"OAEMG","k":5,"v":5.9},{"s":"OAEMG","k":6,"v":4.0},{"s":"OAEMG","k":7,"v":3.0},{"s":"OAEMG","k":8,"v":3.2},{"s":"OAEMG","k":9,"v":1.8},{"s":"OAEMG","k":10,"v":1.0},{"s":"OAEMG","k":11,"v":1.0},{"s":"OAEMG","k":12,"v":0.6},{"s":"OAEMG","k":13,"v":0.5},{"s":"OAEMG","k":14,"v":0.4},{"s":"OAEMG","k":15,"v":0.4},{"s":"OAEMG","k":16,"v":0.3},{"s":"OAEMG","k":17,"v":0.3},{"s":"OAEMG","k":18,"v":0.3},{"s":"OAEMG","k":19,"v":0.2},{"s":"OAEMG","k":20,"v":0.2},{"s":"OAEMG","k":21,"v":0.2},{"s":"OAEMG","k":22,"v":0.2},{"s":"OAEMG","k":23,"v":0.2},{"s":"OAEMG","k":24,"v":0.2},{"s":"OAEMG","k":25,"v":0.2},{"s":"OAEMG","k":26,"v":0.1},{"s":"OAEMG","k":27,"v":0.2},{"s":"OAEMG","k":28,"v":0.1},{"s":"OAEMG","k":29,"v":0.1},{"s":"OAEMG","k":30,"v":0.3},
{"s":"OHSY","k":0,"v":16.7},{"s":"OHSY","k":1,"v":16.6},{"s":"OHSY","k":2,"v":14.0},{"s":"OHSY","k":3,"v":12.7},{"s":"OHSY","k":4,"v":9.5},{"s":"OHSY","k":5,"v":6.8},{"s":"OHSY","k":6,"v":6.0},{"s":"OHSY","k":7,"v":4.2},{"s":"OHSY","k":8,"v":3.5},{"s":"OHSY","k":9,"v":2.7},{"s":"OHSY","k":10,"v":2.0},{"s":"OHSY","k":11,"v":1.2},{"s":"OHSY","k":12,"v":0.5},{"s":"OHSY","k":13,"v":0.4},{"s":"OHSY","k":14,"v":0.3},{"s":"OHSY","k":15,"v":0.3},{"s":"OHSY","k":16,"v":0.3},{"s":"OHSY","k":17,"v":0.2},{"s":"OHSY","k":18,"v":0.2},{"s":"OHSY","k":19,"v":0.2},{"s":"OHSY","k":20,"v":0.2},{"s":"OHSY","k":21,"v":0.1},{"s":"OHSY","k":22,"v":0.2},{"s":"OHSY","k":23,"v":0.1},{"s":"OHSY","k":24,"v":0.2},{"s":"OHSY","k":25,"v":0.1},{"s":"OHSY","k":26,"v":0.1},{"s":"OHSY","k":27,"v":0.1},{"s":"OHSY","k":28,"v":0.1},{"s":"OHSY","k":29,"v":0.1},{"s":"OHSY","k":30,"v":0.2},
{"s":"SAU","k":0,"v":19.9},{"s":"SAU","k":1,"v":13.8},{"s":"SAU","k":2,"v":15.5},{"s":"SAU","k":3,"v":12.5},{"s":"SAU","k":4,"v":13.1},{"s":"SAU","k":5,"v":6.0},{"s":"SAU","k":6,"v":4.4},{"s":"SAU","k":7,"v":3.0},{"s":"SAU","k":8,"v":3.2},{"s":"SAU","k":9,"v":2.0},{"s":"SAU","k":10,"v":1.7},{"s":"SAU","k":11,"v":0.9},{"s":"SAU","k":12,"v":0.5},{"s":"SAU","k":13,"v":0.4},{"s":"SAU","k":14,"v":0.3},{"s":"SAU","k":15,"v":0.3},{"s":"SAU","k":16,"v":0.3},{"s":"SAU","k":17,"v":0.2},{"s":"SAU","k":18,"v":0.2},{"s":"SAU","k":19,"v":0.2},{"s":"SAU","k":20,"v":0.2},{"s":"SAU","k":21,"v":0.1},{"s":"SAU","k":22,"v":0.2},{"s":"SAU","k":23,"v":0.1},{"s":"SAU","k":24,"v":0.2},{"s":"SAU","k":25,"v":0.1},{"s":"SAU","k":26,"v":0.1},{"s":"SAU","k":27,"v":0.1},{"s":"SAU","k":28,"v":0.1},{"s":"SAU","k":29,"v":0.1},{"s":"SAU","k":30,"v":0.2},
{"s":"SMF","k":0,"v":18.9},{"s":"SMF","k":1,"v":12.6},{"s":"SMF","k":2,"v":17.0},{"s":"SMF","k":3,"v":14.8},{"s":"SMF","k":4,"v":14.9},{"s":"SMF","k":5,"v":4.4},{"s":"SMF","k":6,"v":3.4},{"s":"SMF","k":7,"v":2.2},{"s":"SMF","k":8,"v":2.7},{"s":"SMF","k":9,"v":2.2},{"s":"SMF","k":10,"v":2.2},{"s":"SMF","k":11,"v":0.7},{"s":"SMF","k":12,"v":0.5},{"s":"SMF","k":13,"v":0.4},{"s":"SMF","k":14,"v":0.3},{"s":"SMF","k":15,"v":0.3},{"s":"SMF","k":16,"v":0.3},{"s":"SMF","k":17,"v":0.2},{"s":"SMF","k":18,"v":0.2},{"s":"SMF","k":19,"v":0.2},{"s":"SMF","k":20,"v":0.2},{"s":"SMF","k":21,"v":0.1},{"s":"SMF","k":22,"v":0.2},{"s":"SMF","k":23,"v":0.1},{"s":"SMF","k":24,"v":0.2},{"s":"SMF","k":25,"v":0.1},{"s":"SMF","k":26,"v":0.1},{"s":"SMF","k":27,"v":0.1},{"s":"SMF","k":28,"v":0.1},{"s":"SMF","k":29,"v":0.1},{"s":"SMF","k":30,"v":0.2},
{"s":"SUS","k":0,"v":19.3},{"s":"SUS","k":1,"v":9.1},{"s":"SUS","k":2,"v":19.2},{"s":"SUS","k":3,"v":16.8},{"s":"SUS","k":4,"v":17.2},{"s":"SUS","k":5,"v":3.4},{"s":"SUS","k":6,"v":2.6},{"s":"SUS","k":7,"v":1.8},{"s":"SUS","k":8,"v":1.8},{"s":"SUS","k":9,"v":2.6},{"s":"SUS","k":10,"v":2.4},{"s":"SUS","k":11,"v":0.5},{"s":"SUS","k":12,"v":0.3},{"s":"SUS","k":13,"v":0.3},{"s":"SUS","k":14,"v":0.2},{"s":"SUS","k":15,"v":0.2},{"s":"SUS","k":16,"v":0.2},{"s":"SUS","k":17,"v":0.2},{"s":"SUS","k":18,"v":0.2},{"s":"SUS","k":19,"v":0.1},{"s":"SUS","k":20,"v":0.1},{"s":"SUS","k":21,"v":0.1},{"s":"SUS","k":22,"v":0.1},{"s":"SUS","k":23,"v":0.1},{"s":"SUS","k":24,"v":0.1},{"s":"SUS","k":25,"v":0.1},{"s":"SUS","k":26,"v":0.1},{"s":"SUS","k":27,"v":0.1},{"s":"SUS","k":28,"v":0.1},{"s":"SUS","k":29,"v":0.1},{"s":"SUS","k":30,"v":0.1},
{"s":"UCG","k":0,"v":21.4},{"s":"UCG","k":1,"v":7.0},{"s":"UCG","k":2,"v":21.0},{"s":"UCG","k":3,"v":18.2},{"s":"UCG","k":4,"v":19.1},{"s":"UCG","k":5,"v":1.2},{"s":"UCG","k":6,"v":1.5},{"s":"UCG","k":7,"v":0.5},{"s":"UCG","k":8,"v":1.3},{"s":"UCG","k":9,"v":2.6},{"s":"UCG","k":10,"v":2.7},{"s":"UCG","k":11,"v":0.5},{"s":"UCG","k":12,"v":0.3},{"s":"UCG","k":13,"v":0.3},{"s":"UCG","k":14,"v":0.2},{"s":"UCG","k":15,"v":0.2},{"s":"UCG","k":16,"v":0.2},{"s":"UCG","k":17,"v":0.2},{"s":"UCG","k":18,"v":0.2},{"s":"UCG","k":19,"v":0.1},{"s":"UCG","k":20,"v":0.1},{"s":"UCG","k":21,"v":0.1},{"s":"UCG","k":22,"v":0.1},{"s":"UCG","k":23,"v":0.1},{"s":"UCG","k":24,"v":0.1},{"s":"UCG","k":25,"v":0.1},{"s":"UCG","k":26,"v":0.1},{"s":"UCG","k":27,"v":0.1},{"s":"UCG","k":28,"v":0.1},{"s":"UCG","k":29,"v":0.1},{"s":"UCG","k":30,"v":0.1},
{"s":"WTDBR","k":0,"v":17.8},{"s":"WTDBR","k":1,"v":23.6},{"s":"WTDBR","k":2,"v":8.0},{"s":"WTDBR","k":3,"v":4.9},{"s":"WTDBR","k":4,"v":4.6},{"s":"WTDBR","k":5,"v":11.9},{"s":"WTDBR","k":6,"v":8.9},{"s":"WTDBR","k":7,"v":6.2},{"s":"WTDBR","k":8,"v":5.3},{"s":"WTDBR","k":9,"v":0.8},{"s":"WTDBR","k":10,"v":0.8},{"s":"WTDBR","k":11,"v":1.7},{"s":"WTDBR","k":12,"v":0.6},{"s":"WTDBR","k":13,"v":0.5},{"s":"WTDBR","k":14,"v":0.4},{"s":"WTDBR","k":15,"v":0.4},{"s":"WTDBR","k":16,"v":0.3},{"s":"WTDBR","k":17,"v":0.3},{"s":"WTDBR","k":18,"v":0.3},{"s":"WTDBR","k":19,"v":0.2},{"s":"WTDBR","k":20,"v":0.2},{"s":"WTDBR","k":21,"v":0.2},{"s":"WTDBR","k":22,"v":0.2},{"s":"WTDBR","k":23,"v":0.2},{"s":"WTDBR","k":24,"v":0.2},{"s":"WTDBR","k":25,"v":0.2},{"s":"WTDBR","k":26,"v":0.1},{"s":"WTDBR","k":27,"v":0.2},{"s":"WTDBR","k":28,"v":0.1},{"s":"WTDBR","k":29,"v":0.1},{"s":"WTDBR","k":30,"v":0.3}
]
},
"vconcat": [
{
  "width": 600, "height": 425,
  "title": {"text": "A", "anchor": "start", "frame": "bounds", "fontSize": 32, "fontWeight": "bold", "font": "Liberation Sans", "color": "#000000", "offset": 1, "dx": 0},
  "layer": [
    {
      "data": {"name": "a"},
      "transform": [{"lookup": "k", "from": {"data": {"name": "ca"}, "key": "k", "fields": ["c"]}}],
      "mark": {"type": "bar"},
      "encoding": {
        "x": {"field": "s", "type": "nominal", "sort": ["ADC","AMD","ANASDB","AOM","AVCYCH","AVCYNL","EMR","MEGM","MLWSF","MLWSFD","MLWSME","MLWSML","MLWSMO","OAEMD","OAEMG","OHSY","SAU","SMF","SUS","UCG","WTDBR"], "scale": {"paddingInner": 0.58, "paddingOuter": 0.29}},
        "y": {"field": "v", "type": "quantitative", "stack": "normalize", "scale": {"domain": [0, 1], "nice": false}, "title": "(%) Taxonomical classes"},
        "color": {"field": "c", "type": "nominal",
          "scale": {"domain": ["Deferribacteres","Opitutae","Synergistia","Verrucomicrobiae","Dictyoglomia","Planctomycetia","Elusimicrobia","Cytophagia","Negativicutes","Aquificae","Thermomicrobia","Sphingobacteriia","Flavobacteriia","Chloroflexi","Chlorobia","Dehalococcoidetes","Thermotogae","Fusobacteriia","Bacteroidia","Deltaproteobacteria","Chlamydiia","Deinococci","Mollicutes","Epsilonproteobacteria","Spirochaetia","Actinobacteria","Clostridia","Betaproteobacteria","Alphaproteobacteria","Bacilli","Gammaproteobacteria"],
                    "range": ["#C6D1E5","#FAC6A2","#A6D3E1","#B9AECF","#C5D8A5","#D9A3A2","#A3B9DA","#F9AE73","#72BED3","#9E8ABD","#B4CC88","#D06F6C","#6D94CB","#F19A52","#5CB4CD","#8C74AF","#A8C56F","#C9605D","#5A8AC6","#F69240","#46AAC5","#7D60A0","#98B954","#BE4B48","#4A7EBB","#B66D31","#31859C","#5C4776","#71893F","#8C3836","#385D8A"]},
          "legend": {"offset": 5, "symbolType": "square", "symbolSize": 49, "rowPadding": 4.1}},
        "order": {"field": "k", "type": "quantitative"}
      }
    },
    {
      "data": {"name": "la"},
      "mark": {"type": "line", "color": "#C7A2D8", "strokeWidth": 3},
      "encoding": {
        "x": {"field": "s", "type": "nominal", "sort": ["ADC","AMD","ANASDB","AOM","AVCYCH","AVCYNL","EMR","MEGM","MLWSF","MLWSFD","MLWSME","MLWSML","MLWSMO","OAEMD","OAEMG","OHSY","SAU","SMF","SUS","UCG","WTDBR"]},
        "y": {"field": "f", "type": "quantitative", "title": "(%) Taxonomical classes"}
      }
    }
  ]
},
{
  "width": 600, "height": 376,
  "title": {"text": "B", "anchor": "start", "frame": "bounds", "fontSize": 32, "fontWeight": "bold", "font": "Liberation Sans", "color": "#000000", "offset": 1, "dx": 0},
  "layer": [
    {
      "data": {"name": "b"},
      "transform": [{"lookup": "k", "from": {"data": {"name": "cb"}, "key": "k", "fields": ["c"]}}],
      "mark": {"type": "bar"},
      "encoding": {
        "x": {"field": "s", "type": "nominal", "sort": ["ADC","AMD","ANASDB","AOM","AVCYCH","AVCYNL","EMR","MEGM","MLWSF","MLWSFD","MLWSME","MLWSML","MLWSMO","OAEMD","OAEMG","OHSY","SAU","SMF","SUS","UCG","WTDBR"], "scale": {"paddingInner": 0.58, "paddingOuter": 0.29}},
        "y": {"field": "v", "type": "quantitative", "stack": "normalize", "scale": {"domain": [0, 1], "nice": false}, "title": "(%) Taxonomical classes"},
        "color": {"field": "c", "type": "nominal",
          "scale": {"domain": ["Synergistia","Deferribacteres","Verrucomicrobiae","Elusimicrobia","Opitutae","Planctomycetia","Negativicutes","Thermomicrobia","Dictyoglomia","Dehalococcoidetes","Cytophagia","Aquificae","Chloroflexi","Sphingobacteriia","Chlorobia","Fusobacteriia","Flavobacteriia","Thermotogae","Bacteroidia","Chlamydiia","Deltaproteobacteria","Deinococci","Epsilonproteobacteria","Mollicutes","Clostridia","Spirochaetia","Betaproteobacteria","Actinobacteria","Alphaproteobacteria","Bacilli","Gammaproteobacteria"],
                    "range": ["#C6D1E5","#FAC6A2","#A6D3E1","#B9AECF","#C5D8A5","#D9A3A2","#A3B9DA","#F9AE73","#72BED3","#9E8ABD","#B4CC88","#D06F6C","#6D94CB","#F19A52","#5CB4CD","#8C74AF","#A8C56F","#C9605D","#5A8AC6","#F69240","#46AAC5","#7D60A0","#98B954","#BE4B48","#4A7EBB","#B66D31","#31859C","#5C4776","#71893F","#8C3836","#385D8A"]},
          "legend": {"offset": 5, "symbolType": "M-1,-0.35H1V0.35H-1Z", "symbolSize": 121, "rowPadding": 1.6}},
        "order": {"field": "k", "type": "quantitative"}
      }
    },
    {
      "data": {"name": "lb"},
      "mark": {"type": "line", "color": "#C7A2D8", "strokeWidth": 3},
      "encoding": {
        "x": {"field": "s", "type": "nominal", "sort": ["ADC","AMD","ANASDB","AOM","AVCYCH","AVCYNL","EMR","MEGM","MLWSF","MLWSFD","MLWSME","MLWSML","MLWSMO","OAEMD","OAEMG","OHSY","SAU","SMF","SUS","UCG","WTDBR"]},
        "y": {"field": "f", "type": "quantitative", "title": "(%) Taxonomical classes"}
      }
    }
  ]
}
],
"resolve": {"scale": {"color": "independent"}, "legend": {"color": "independent"}}
}
